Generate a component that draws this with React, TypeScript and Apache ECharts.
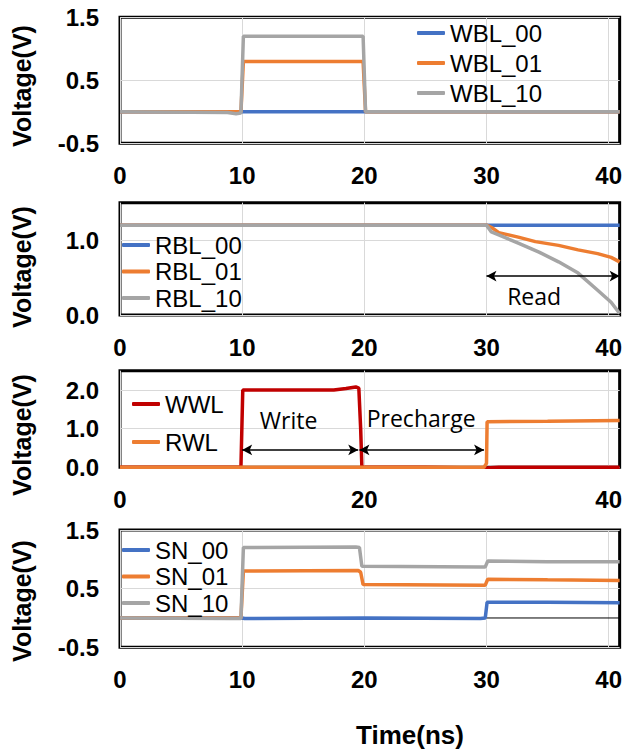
import React, { useEffect, useRef } from "react";
import * as echarts from "echarts";

// ---------- data (time in ns, voltage in V) ----------
const X_MAX = 40.9;

const wbl00 = [[0, 0], [10, 0], [20, 0], [40.9, 0]];
const wbl01 = [[0, 0], [9.9, 0], [10.1, 0.8], [19.9, 0.8], [20.1, 0], [40.9, 0]];
const wbl10 = [[0, 0], [8.8, -0.01], [9.5, -0.03], [9.9, -0.02], [10.1, 1.2], [19.9, 1.2], [20.1, 0], [40.9, 0]];

const rbl00 = [[0, 1.2], [30, 1.2], [40.9, 1.2]];
const rbl01 = [[0, 1.2], [30, 1.2], [30.5, 1.16], [31, 1.1], [32.6, 1.04], [34, 0.98], [35.9, 0.93], [37.5, 0.87], [39.1, 0.82], [40.2, 0.77], [40.9, 0.71]];
const rbl10 = [[0, 1.2], [30, 1.2], [30.4, 1.11], [31, 1.07], [32.6, 0.96], [34.3, 0.84], [35.9, 0.71], [37.5, 0.56], [39.1, 0.33], [40.2, 0.17], [40.9, 0.02]];

const wwl = [[0, 0], [9.9, 0], [10.05, 2.0], [17.5, 2.0], [18.5, 2.04], [19.3, 2.08], [19.55, 2.05], [19.7, 1.0], [19.8, 0], [25, 0], [28, -0.01], [30, -0.02], [31, 0], [40.9, 0]];
const rwl = [[0, 0], [29.8, 0], [30, 0.1], [30.05, 1.18], [35, 1.19], [40.9, 1.21]];

const sn00 = [[0, 0], [10, 0], [10.2, -0.01], [20, 0], [29.5, -0.01], [29.9, 0], [30.05, 0.27], [35, 0.27], [40.9, 0.26]];
const sn01 = [[0, 0], [9.9, 0], [10.1, 0.8], [19.5, 0.81], [19.7, 0.78], [19.9, 0.57], [29.9, 0.56], [30.1, 0.66], [35, 0.65], [40.9, 0.64]];
const sn10 = [[0, 0], [9, -0.01], [9.9, -0.01], [10.1, 1.2], [19.3, 1.21], [19.6, 1.2], [19.8, 0.88], [29.5, 0.87], [29.9, 0.87], [30.1, 0.97], [35, 0.96], [40.9, 0.96]];
const snRef = [[30, 0], [40.9, 0]];

// annotations: [start, end, level] arrows and [x, y, text] labels
const readArrow = [30, 40.9, 0.52];
const writeArrow = [10, 19.5, 0.45];
const prechargeArrow = [19.6, 29.8, 0.45];
const readLabel = [33.9, 0.25, "Read"];
const writeLabel = [13.8, 1.23, "Write"];
const prechargeLabel = [24.65, 1.28, "Precharge"];

const xTicks = [0, 10, 20, 30, 40];
const xTicksWL = [0, 20, 40];

// ---------- styling ----------
const BLUE = "#4472C4";
const ORANGE = "#ED7D31";
const GRAY = "#A5A5A5";
const RED = "#C00000";
const GRID_C = "#D9D9D9";
const CLEAR = "rgba(0,0,0,0)";
const FONT = "'Liberation Sans', Arial, sans-serif";
const ANN_FONT = "'Open Sans', 'Noto Sans', sans-serif";

const grids = [
  { id: "g0", left: 120, right: 3.3, top: 17.3, height: 126 },
  { id: "g1", left: 120, right: 3.3, top: 202.7, height: 112.3 },
  { id: "g2", left: 120, right: 3.3, top: 370.7, height: 96.6 },
  { id: "g3", left: 120, right: 3.3, top: 530, height: 117.3 },
].map((g) => ({ ...g, show: true, borderColor: "#000", borderWidth: 3, backgroundColor: "#fff", z: 0 }));

const xAxis = (gi: number, ticks: number[]) => ({
  id: "x" + gi,
  type: "value",
  gridIndex: gi,
  min: 0,
  max: X_MAX,
  interval: ticks[1] - ticks[0],
  axisLine: { show: false },
  axisTick: { show: false, customValues: ticks },
  splitLine: { show: true, lineStyle: { color: GRID_C, width: 1 } },
  axisLabel: {
    customValues: ticks,
    fontFamily: FONT,
    fontSize: 24,
    fontWeight: "bold",
    color: "#000",
    lineHeight: 24,
    margin: 20,
    formatter: (v: number) => {
      const r = Math.round(v);
      return Math.abs(v - r) < 1e-6 && ticks.indexOf(r) >= 0 ? String(r) : "";
    },
  },
});

const oddHalf = (v: number) => Math.abs(Math.round(v * 2)) % 2 === 1;
const isInt = (v: number) => Math.abs(v - Math.round(v)) < 1e-6;

const yAxis = (gi: number, min: number, max: number, show: (v: number) => boolean) => ({
  id: "y" + gi,
  type: "value",
  gridIndex: gi,
  min,
  max,
  interval: 0.5,
  axisLine: { show: false },
  axisTick: { show: false },
  splitLine: { show: true, lineStyle: { color: [GRID_C, CLEAR], width: 1 } },
  axisLabel: {
    fontFamily: FONT,
    fontSize: 24,
    fontWeight: "bold",
    color: "#000",
    margin: 21,
    formatter: (v: number) => (show(v) ? v.toFixed(1) : ""),
  },
});

const line = (name: string, data: number[][], color: string, gi: number, extra: any = {}) => ({
  type: "line",
  name,
  data,
  xAxisIndex: gi,
  yAxisIndex: gi,
  symbol: "none",
  smooth: false,
  lineStyle: { color, width: 3.5 },
  itemStyle: { color },
  z: 3,
  ...extra,
});

const arrowMark = (arrows: number[][]) => ({
  silent: true,
  symbol: ["arrow", "arrow"],
  symbolSize: [8, 10],
  label: { show: false },
  lineStyle: { color: "#000", width: 1.5, type: "solid" },
  data: arrows.map((a) => [{ coord: [a[0], a[2]] }, { coord: [a[1], a[2]] }]),
});

const textMark = (labels: any[][]) => ({
  silent: true,
  symbol: "rect",
  symbolSize: 1,
  itemStyle: { color: CLEAR },
  label: {
    show: true,
    position: "inside",
    color: "#000",
    fontFamily: ANN_FONT,
    fontSize: 23,
    formatter: (p: any) => p.name,
  },
  data: labels.map((l) => ({ name: l[2], coord: [l[0], l[1]] })),
});

const legend = (names: string[], left: number, top: number, gap: number) => ({
  data: names,
  orient: "vertical",
  left,
  top,
  padding: 0,
  itemGap: gap,
  itemWidth: 28,
  itemHeight: 4,
  icon: "roundRect",
  selectedMode: false,
  textStyle: { fontFamily: FONT, fontSize: 24, color: "#000", lineHeight: 24 },
});

const vTitle = (y: number) => ({
  type: "text",
  x: 22,
  y,
  rotation: Math.PI / 2,
  style: {
    text: "Voltage(V)",
    fontFamily: FONT,
    fontSize: 25,
    fontWeight: "bold",
    fill: "#000",
    textAlign: "center",
    textVerticalAlign: "middle",
  },
});

export default function App() {
  const ref = useRef<HTMLDivElement>(null);
  useEffect(() => {
    if (!ref.current) return;
    const chart = echarts.init(ref.current, null, { renderer: "svg" });
    chart.setOption({
      animation: false,
      backgroundColor: "#fff",
      grid: grids,
      xAxis: [xAxis(0, xTicks), xAxis(1, xTicks), xAxis(2, xTicksWL), xAxis(3, xTicks)],
      yAxis: [
        yAxis(0, -0.5, 1.5, oddHalf),
        yAxis(1, 0, 1.5, isInt),
        yAxis(2, 0, 2.5, isInt),
        yAxis(3, -0.5, 1.5, oddHalf),
      ],
      legend: [
        legend(["WBL_00", "WBL_01", "WBL_10"], 417, 21, 6),
        legend(["RBL_00", "RBL_01", "RBL_10"], 122, 233, 2.5),
        legend(["WWL", "RWL"], 132, 392, 14),
        legend(["SN_00", "SN_01", "SN_10"], 122, 538, 2.5),
      ],
      series: [
        line("WBL_00", wbl00, BLUE, 0),
        line("WBL_01", wbl01, ORANGE, 0),
        line("WBL_10", wbl10, GRAY, 0),
        line("RBL_00", rbl00, BLUE, 1),
        line("RBL_01", rbl01, ORANGE, 1),
        line("RBL_10", rbl10, GRAY, 1, {
          markLine: arrowMark([readArrow]),
          markPoint: textMark([readLabel]),
        }),
        line("WWL", wwl, RED, 2),
        line("RWL", rwl, ORANGE, 2, {
          markLine: arrowMark([writeArrow, prechargeArrow]),
          markPoint: textMark([writeLabel, prechargeLabel]),
        }),
        line("SN_00", sn00, BLUE, 3),
        line("SN_01", sn01, ORANGE, 3),
        line("SN_10", sn10, GRAY, 3),
        line("", snRef, "#000", 3, { lineStyle: { color: "#000", width: 1 }, z: 2 }),
      ],
      graphic: [
        vTitle(86),
        vTitle(267),
        vTitle(435),
        vTitle(601),
        {
          type: "text",
          x: 410,
          y: 735,
          style: {
            text: "Time(ns)",
            fontFamily: FONT,
            fontSize: 26,
            fontWeight: "bold",
            fill: "#000",
            textAlign: "center",
            textVerticalAlign: "middle",
          },
        },
      ],
    });
    return () => chart.dispose();
  }, []);
  return (
    <div
      ref={ref}
      style={{ position: "absolute", left: 0, top: 0, width: 625, height: 749, background: "#fff" }}
    />
  );
}
